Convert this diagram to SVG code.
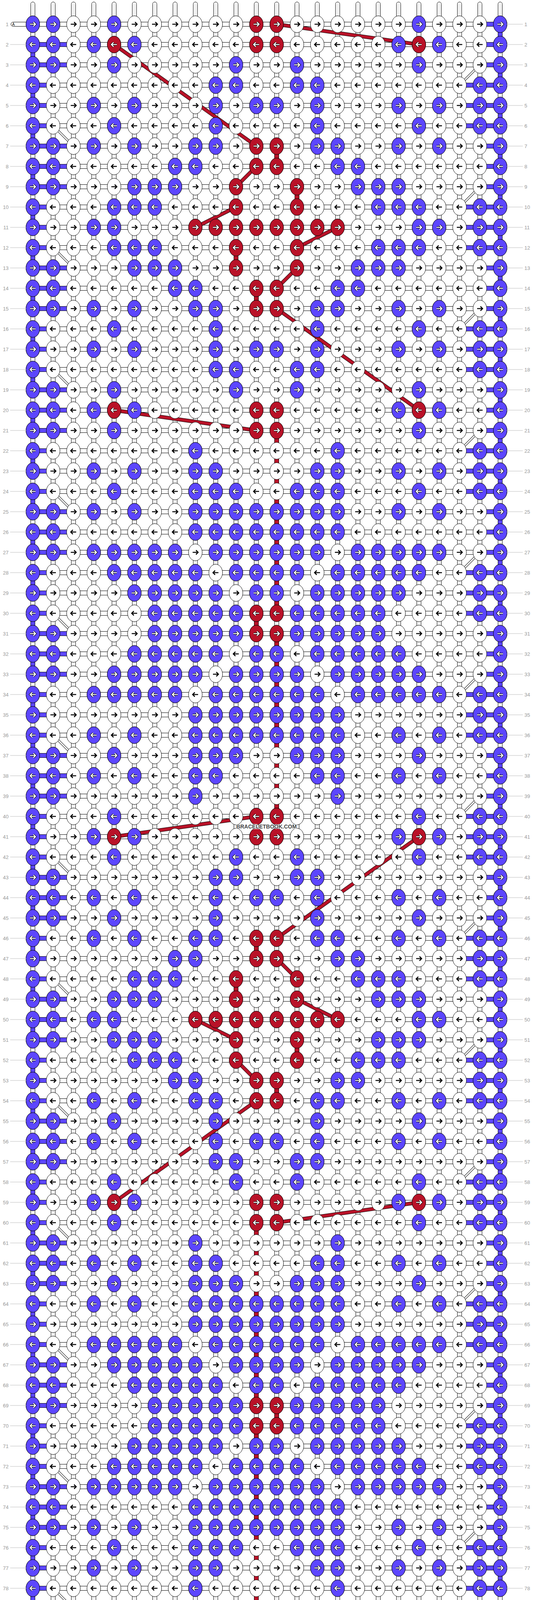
<svg xmlns="http://www.w3.org/2000/svg" width="1364" height="4232" viewBox="0 0 1364 4232">
<style>
.ab{fill:none;stroke:#000;stroke-width:2.6}
.wo{fill:none;stroke:#000;stroke-width:4.8}
.wi{fill:none;stroke:#fff;stroke-width:2.6}
.kb{fill:#5c46fe;stroke:#000}
.kr{fill:#b91228;stroke:#000}
.bl{fill:#5c46fe;stroke:#000}
.rv{fill:#b91228;stroke:#000}
.dw1{fill:none;stroke:#000;stroke-width:5.5}
.dw2{fill:none;stroke:#fff;stroke-width:3.5}
.rdo{fill:none;stroke:#000;stroke-width:9.5}
.rdi{fill:none;stroke:#b91228;stroke-width:7.5}
.num{font-family:"Liberation Sans",Arial,sans-serif;font-size:13px;fill:#999}
</style>
<defs>
<path id="ar" d="M-7 0H6M1.5-5.5L7 0L1.5 5.5"/>
<path id="al" d="M7 0H-6M-1.5-5.5L-7 0L-1.5 5.5"/>
<g id="bR"><ellipse rx="17.5" ry="21.5" class="kb"/><use href="#ar" class="wo"/><use href="#ar" class="wi"/></g>
<g id="bL"><ellipse rx="17.5" ry="21.5" class="kb"/><use href="#al" class="wo"/><use href="#al" class="wi"/></g>
<g id="rR"><ellipse rx="17.5" ry="21.5" class="kr"/><use href="#ar" class="wo"/><use href="#ar" class="wi"/></g>
<g id="rL"><ellipse rx="17.5" ry="21.5" class="kr"/><use href="#al" class="wo"/><use href="#al" class="wi"/></g>
<pattern id="pT" patternUnits="userSpaceOnUse" x="58" y="0" width="52" height="70"><rect x="20.5" y="5" width="11" height="60" rx="5.5" fill="#fff" stroke="#000"/><path d="M24 10V65M28 10V65" stroke="#c8c8c8"/></pattern>
<pattern id="pU" patternUnits="userSpaceOnUse" x="58" y="4160" width="52" height="72"><rect x="20.5" y="0" width="11" height="66" rx="5.5" fill="#fff" stroke="#000"/><path d="M24 0V61M28 0V61" stroke="#c8c8c8"/></pattern>
<pattern id="pA" patternUnits="userSpaceOnUse" x="58" y="36" width="52" height="52"><rect x="20.5" width="11" height="52" fill="#fff"/><path d="M20.5 0V52M31.5 0V52" stroke="#000"/><path d="M24 0V52M28 0V52" stroke="#c8c8c8"/><rect y="20.5" width="52" height="11" fill="#fff"/><path d="M0 20.5H52M0 31.5H52" stroke="#000"/></pattern>
<pattern id="pB" patternUnits="userSpaceOnUse" x="58" y="36" width="52" height="104"><ellipse cx="26" cy="26" rx="17.5" ry="21.5" fill="#fff" stroke="#000"/><use href="#ar" x="26" y="26" class="ab"/><ellipse cx="26" cy="78" rx="17.5" ry="21.5" fill="#fff" stroke="#000"/><use href="#al" x="26" y="78" class="ab"/></pattern>
<pattern id="pL" patternUnits="userSpaceOnUse" x="72" y="36" width="128" height="312">
<g class="bl"><rect x="12" y="20.5" width="104" height="11"/><rect x="12" y="72.5" width="104" height="11"/><rect x="12" y="124.5" width="104" height="11"/><rect x="12" y="176.5" width="52" height="11"/><rect x="12" y="228.5" width="52" height="11"/><rect x="12" y="280.5" width="52" height="11"/><rect x="6.5" y="78" width="11" height="52"/><rect x="6.5" y="182" width="11" height="52"/><rect x="6.5" y="286" width="11" height="52"/><rect x="6.5" y="-26" width="11" height="52"/></g>
<path d="M64 286L116 338M64-26L116 26" class="dw1"/><path d="M64 286L116 338M64-26L116 26" class="dw2"/>
</pattern>
<pattern id="pR" patternUnits="userSpaceOnUse" x="1164" y="36" width="128" height="312">
<g class="bl"><rect x="64" y="20.5" width="52" height="11"/><rect x="64" y="72.5" width="52" height="11"/><rect x="64" y="124.5" width="52" height="11"/><rect x="12" y="176.5" width="104" height="11"/><rect x="12" y="228.5" width="104" height="11"/><rect x="12" y="280.5" width="104" height="11"/><rect x="110.5" y="26" width="11" height="52"/><rect x="110.5" y="130" width="11" height="52"/><rect x="110.5" y="234" width="11" height="52"/></g>
<path d="M64 130L12 182" class="dw1"/><path d="M64 130L12 182" class="dw2"/>
</pattern>
<pattern id="pG" patternUnits="userSpaceOnUse" x="0" y="36" width="1364" height="52"><path d="M0 26H1364" stroke="#bbb"/></pattern>
<path id="rdp" d="M708 62L1072 114M292 114L656 374M656 426L604 478M604 530L500 582M864 582L760 634M760 686L708 738M708 790L1072 1050M292 1050L656 1102M292 2142L656 2090M1072 2142L708 2402M708 2454L760 2506M760 2558L864 2610M500 2610L604 2662M604 2714L656 2766M656 2818L292 3078M708 3130L1072 3078"/>
</defs>
<rect width="1364" height="4232" fill="#fff"/>
<g id="connectors">
<rect x="58" y="0" width="1248" height="62" fill="url(#pT)"/>
<rect x="58" y="4160" width="1248" height="72" fill="url(#pU)"/>
<rect x="67" y="36" width="1230" height="4160" fill="url(#pA)"/>
<rect x="72" y="88" width="128" height="4056" fill="url(#pL)"/>
<rect x="1164" y="36" width="128" height="4160" fill="url(#pR)"/>
<g class="rv">
<rect x="702.5" y="374" width="11" height="52"/><rect x="754.5" y="478" width="11" height="52"/><rect x="598.5" y="634" width="11" height="52"/><rect x="650.5" y="738" width="11" height="52"/>
<rect x="650.5" y="2402" width="11" height="52"/><rect x="598.5" y="2506" width="11" height="52"/><rect x="754.5" y="2662" width="11" height="52"/><rect x="702.5" y="2766" width="11" height="52"/>
<rect x="702.5" y="1102" width="11" height="468"/><rect x="650.5" y="1570" width="11" height="52"/><rect x="702.5" y="1622" width="11" height="468"/>
<rect x="650.5" y="3130" width="11" height="468"/><rect x="702.5" y="3598" width="11" height="52"/><rect x="650.5" y="3650" width="11" height="468"/>
</g>
<use href="#rdp" class="rdo"/><use href="#rdp" class="rdi"/>
<g id="startA1"><rect x="28" y="56.5" width="45" height="11" rx="5.5" fill="#fff" stroke="#000"/><text x="31" y="66" font-family="Liberation Sans, Arial, sans-serif" font-size="10">A</text></g>
<g id="startA80"><rect x="28" y="4164.5" width="45" height="11" rx="5.5" fill="#fff" stroke="#000"/><text x="31" y="4174" font-family="Liberation Sans, Arial, sans-serif" font-size="10">A</text></g>
</g>
<g id="knots">
<rect x="66" y="36" width="1232" height="4160" fill="url(#pB)"/>
<g id="row1" transform="translate(0,62)"><use href="#bR" x="84"/><use href="#bR" x="136"/><use href="#bR" x="292"/><use href="#rR" x="656"/><use href="#rR" x="708"/><use href="#bR" x="1072"/><use href="#bR" x="1280"/></g>
<g id="row2" transform="translate(0,114)"><use href="#bL" x="84"/><use href="#bL" x="136"/><use href="#bL" x="240"/><use href="#rL" x="292"/><use href="#bL" x="344"/><use href="#rL" x="656"/><use href="#rL" x="708"/><use href="#bL" x="1020"/><use href="#rL" x="1072"/><use href="#bL" x="1124"/><use href="#bL" x="1280"/></g>
<g id="row3" transform="translate(0,166)"><use href="#bR" x="84"/><use href="#bR" x="136"/><use href="#bR" x="292"/><use href="#bR" x="604"/><use href="#bR" x="760"/><use href="#bR" x="1072"/><use href="#bR" x="1280"/></g>
<g id="row4" transform="translate(0,218)"><use href="#bL" x="84"/><use href="#bL" x="552"/><use href="#bL" x="604"/><use href="#bL" x="760"/><use href="#bL" x="812"/><use href="#bL" x="1228"/><use href="#bL" x="1280"/></g>
<g id="row5" transform="translate(0,270)"><use href="#bR" x="84"/><use href="#bR" x="240"/><use href="#bR" x="344"/><use href="#bR" x="552"/><use href="#bR" x="656"/><use href="#bR" x="708"/><use href="#bR" x="812"/><use href="#bR" x="1020"/><use href="#bR" x="1124"/><use href="#bR" x="1228"/><use href="#bR" x="1280"/></g>
<g id="row6" transform="translate(0,322)"><use href="#bL" x="84"/><use href="#bL" x="292"/><use href="#bL" x="552"/><use href="#bL" x="812"/><use href="#bL" x="1072"/><use href="#bL" x="1228"/><use href="#bL" x="1280"/></g>
<g id="row7" transform="translate(0,374)"><use href="#bR" x="84"/><use href="#bR" x="136"/><use href="#bR" x="240"/><use href="#bR" x="344"/><use href="#bR" x="500"/><use href="#bR" x="552"/><use href="#rR" x="656"/><use href="#rR" x="708"/><use href="#bR" x="812"/><use href="#bR" x="864"/><use href="#bR" x="1020"/><use href="#bR" x="1124"/><use href="#bR" x="1280"/></g>
<g id="row8" transform="translate(0,426)"><use href="#bL" x="84"/><use href="#bL" x="136"/><use href="#bL" x="448"/><use href="#bL" x="500"/><use href="#rL" x="656"/><use href="#rL" x="708"/><use href="#bL" x="864"/><use href="#bL" x="916"/><use href="#bL" x="1280"/></g>
<g id="row9" transform="translate(0,478)"><use href="#bR" x="84"/><use href="#bR" x="136"/><use href="#bR" x="344"/><use href="#bR" x="396"/><use href="#bR" x="448"/><use href="#rR" x="604"/><use href="#rR" x="760"/><use href="#bR" x="916"/><use href="#bR" x="968"/><use href="#bR" x="1020"/><use href="#bR" x="1280"/></g>
<g id="row10" transform="translate(0,530)"><use href="#bL" x="84"/><use href="#bL" x="292"/><use href="#bL" x="344"/><use href="#bL" x="396"/><use href="#rL" x="604"/><use href="#rL" x="760"/><use href="#bL" x="968"/><use href="#bL" x="1020"/><use href="#bL" x="1072"/><use href="#bL" x="1228"/><use href="#bL" x="1280"/></g>
<g id="row11" transform="translate(0,582)"><use href="#bR" x="84"/><use href="#bR" x="240"/><use href="#bR" x="292"/><use href="#rR" x="500"/><use href="#rR" x="552"/><use href="#rR" x="604"/><use href="#rR" x="656"/><use href="#rR" x="708"/><use href="#rR" x="760"/><use href="#rR" x="812"/><use href="#rR" x="864"/><use href="#bR" x="1072"/><use href="#bR" x="1124"/><use href="#bR" x="1228"/><use href="#bR" x="1280"/></g>
<use id="row12" href="#row10" y="104"/><use id="row13" href="#row9" y="208"/><use id="row14" href="#row8" y="312"/><use id="row15" href="#row7" y="416"/><use id="row16" href="#row6" y="520"/><use id="row17" href="#row5" y="624"/><use id="row18" href="#row4" y="728"/><use id="row19" href="#row3" y="832"/><use id="row20" href="#row2" y="936"/><use id="row21" href="#row1" y="1040"/>
<g id="row22" transform="translate(0,1154)"><use href="#bL" x="84"/><use href="#bL" x="500"/><use href="#bL" x="864"/><use href="#bL" x="1228"/><use href="#bL" x="1280"/></g>
<g id="row23" transform="translate(0,1206)"><use href="#bR" x="84"/><use href="#bR" x="240"/><use href="#bR" x="344"/><use href="#bR" x="500"/><use href="#bR" x="552"/><use href="#bR" x="812"/><use href="#bR" x="864"/><use href="#bR" x="1020"/><use href="#bR" x="1124"/><use href="#bR" x="1228"/><use href="#bR" x="1280"/></g>
<g id="row24" transform="translate(0,1258)"><use href="#bL" x="84"/><use href="#bL" x="292"/><use href="#bL" x="500"/><use href="#bL" x="552"/><use href="#bL" x="604"/><use href="#bL" x="760"/><use href="#bL" x="812"/><use href="#bL" x="864"/><use href="#bL" x="1072"/><use href="#bL" x="1228"/><use href="#bL" x="1280"/></g>
<g id="row25" transform="translate(0,1310)"><use href="#bR" x="84"/><use href="#bR" x="136"/><use href="#bR" x="240"/><use href="#bR" x="344"/><use href="#bR" x="500"/><use href="#bR" x="552"/><use href="#bR" x="604"/><use href="#bR" x="656"/><use href="#bR" x="708"/><use href="#bR" x="760"/><use href="#bR" x="812"/><use href="#bR" x="864"/><use href="#bR" x="1020"/><use href="#bR" x="1124"/><use href="#bR" x="1280"/></g>
<g id="row26" transform="translate(0,1362)"><use href="#bL" x="84"/><use href="#bL" x="136"/><use href="#bL" x="500"/><use href="#bL" x="552"/><use href="#bL" x="604"/><use href="#bL" x="656"/><use href="#bL" x="708"/><use href="#bL" x="760"/><use href="#bL" x="812"/><use href="#bL" x="864"/><use href="#bL" x="1280"/></g>
<g id="row27" transform="translate(0,1414)"><use href="#bR" x="84"/><use href="#bR" x="136"/><use href="#bR" x="240"/><use href="#bR" x="292"/><use href="#bR" x="344"/><use href="#bR" x="396"/><use href="#bR" x="448"/><use href="#bR" x="552"/><use href="#bR" x="604"/><use href="#bR" x="656"/><use href="#bR" x="708"/><use href="#bR" x="760"/><use href="#bR" x="812"/><use href="#bR" x="916"/><use href="#bR" x="968"/><use href="#bR" x="1020"/><use href="#bR" x="1072"/><use href="#bR" x="1124"/><use href="#bR" x="1280"/></g>
<g id="row28" transform="translate(0,1466)"><use href="#bL" x="84"/><use href="#bL" x="292"/><use href="#bL" x="344"/><use href="#bL" x="396"/><use href="#bL" x="448"/><use href="#bL" x="500"/><use href="#bL" x="604"/><use href="#bL" x="656"/><use href="#bL" x="708"/><use href="#bL" x="760"/><use href="#bL" x="864"/><use href="#bL" x="916"/><use href="#bL" x="968"/><use href="#bL" x="1020"/><use href="#bL" x="1072"/><use href="#bL" x="1228"/><use href="#bL" x="1280"/></g>
<g id="row29" transform="translate(0,1518)"><use href="#bR" x="84"/><use href="#bR" x="344"/><use href="#bR" x="396"/><use href="#bR" x="448"/><use href="#bR" x="500"/><use href="#bR" x="552"/><use href="#bR" x="656"/><use href="#bR" x="708"/><use href="#bR" x="812"/><use href="#bR" x="864"/><use href="#bR" x="916"/><use href="#bR" x="968"/><use href="#bR" x="1020"/><use href="#bR" x="1228"/><use href="#bR" x="1280"/></g>
<g id="row30" transform="translate(0,1570)"><use href="#bL" x="84"/><use href="#bL" x="396"/><use href="#bL" x="448"/><use href="#bL" x="500"/><use href="#bL" x="552"/><use href="#bL" x="604"/><use href="#rL" x="656"/><use href="#rL" x="708"/><use href="#bL" x="760"/><use href="#bL" x="812"/><use href="#bL" x="864"/><use href="#bL" x="916"/><use href="#bL" x="968"/><use href="#bL" x="1228"/><use href="#bL" x="1280"/></g>
<g id="row31" transform="translate(0,1622)"><use href="#bR" x="84"/><use href="#bR" x="136"/><use href="#bR" x="396"/><use href="#bR" x="448"/><use href="#bR" x="500"/><use href="#bR" x="552"/><use href="#bR" x="604"/><use href="#rR" x="656"/><use href="#rR" x="708"/><use href="#bR" x="760"/><use href="#bR" x="812"/><use href="#bR" x="864"/><use href="#bR" x="916"/><use href="#bR" x="968"/><use href="#bR" x="1280"/></g>
<g id="row32" transform="translate(0,1674)"><use href="#bL" x="84"/><use href="#bL" x="136"/><use href="#bL" x="344"/><use href="#bL" x="396"/><use href="#bL" x="448"/><use href="#bL" x="500"/><use href="#bL" x="552"/><use href="#bL" x="656"/><use href="#bL" x="708"/><use href="#bL" x="812"/><use href="#bL" x="864"/><use href="#bL" x="916"/><use href="#bL" x="968"/><use href="#bL" x="1020"/><use href="#bL" x="1280"/></g>
<g id="row33" transform="translate(0,1726)"><use href="#bR" x="84"/><use href="#bR" x="136"/><use href="#bR" x="292"/><use href="#bR" x="344"/><use href="#bR" x="396"/><use href="#bR" x="448"/><use href="#bR" x="500"/><use href="#bR" x="604"/><use href="#bR" x="656"/><use href="#bR" x="708"/><use href="#bR" x="760"/><use href="#bR" x="864"/><use href="#bR" x="916"/><use href="#bR" x="968"/><use href="#bR" x="1020"/><use href="#bR" x="1072"/><use href="#bR" x="1280"/></g>
<g id="row34" transform="translate(0,1778)"><use href="#bL" x="84"/><use href="#bL" x="240"/><use href="#bL" x="292"/><use href="#bL" x="344"/><use href="#bL" x="396"/><use href="#bL" x="448"/><use href="#bL" x="552"/><use href="#bL" x="604"/><use href="#bL" x="656"/><use href="#bL" x="708"/><use href="#bL" x="760"/><use href="#bL" x="812"/><use href="#bL" x="916"/><use href="#bL" x="968"/><use href="#bL" x="1020"/><use href="#bL" x="1072"/><use href="#bL" x="1124"/><use href="#bL" x="1228"/><use href="#bL" x="1280"/></g>
<g id="row35" transform="translate(0,1830)"><use href="#bR" x="84"/><use href="#bR" x="500"/><use href="#bR" x="552"/><use href="#bR" x="604"/><use href="#bR" x="656"/><use href="#bR" x="708"/><use href="#bR" x="760"/><use href="#bR" x="812"/><use href="#bR" x="864"/><use href="#bR" x="1228"/><use href="#bR" x="1280"/></g>
<g id="row36" transform="translate(0,1882)"><use href="#bL" x="84"/><use href="#bL" x="240"/><use href="#bL" x="344"/><use href="#bL" x="500"/><use href="#bL" x="552"/><use href="#bL" x="604"/><use href="#bL" x="656"/><use href="#bL" x="708"/><use href="#bL" x="760"/><use href="#bL" x="812"/><use href="#bL" x="864"/><use href="#bL" x="1020"/><use href="#bL" x="1124"/><use href="#bL" x="1228"/><use href="#bL" x="1280"/></g>
<g id="row37" transform="translate(0,1934)"><use href="#bR" x="84"/><use href="#bR" x="136"/><use href="#bR" x="292"/><use href="#bR" x="500"/><use href="#bR" x="552"/><use href="#bR" x="604"/><use href="#bR" x="760"/><use href="#bR" x="812"/><use href="#bR" x="864"/><use href="#bR" x="1072"/><use href="#bR" x="1280"/></g>
<g id="row38" transform="translate(0,1986)"><use href="#bL" x="84"/><use href="#bL" x="136"/><use href="#bL" x="240"/><use href="#bL" x="344"/><use href="#bL" x="500"/><use href="#bL" x="552"/><use href="#bL" x="812"/><use href="#bL" x="864"/><use href="#bL" x="1020"/><use href="#bL" x="1124"/><use href="#bL" x="1280"/></g>
<g id="row39" transform="translate(0,2038)"><use href="#bR" x="84"/><use href="#bR" x="136"/><use href="#bR" x="500"/><use href="#bR" x="864"/><use href="#bR" x="1280"/></g>
<g id="row40" transform="translate(0,2090)"><use href="#bL" x="84"/><use href="#bL" x="292"/><use href="#rL" x="656"/><use href="#rL" x="708"/><use href="#bL" x="1072"/><use href="#bL" x="1228"/><use href="#bL" x="1280"/></g>
<g id="row41" transform="translate(0,2142)"><use href="#bR" x="84"/><use href="#bR" x="240"/><use href="#rR" x="292"/><use href="#bR" x="344"/><use href="#rR" x="656"/><use href="#rR" x="708"/><use href="#bR" x="1020"/><use href="#rR" x="1072"/><use href="#bR" x="1124"/><use href="#bR" x="1228"/><use href="#bR" x="1280"/></g>
<g id="row42" transform="translate(0,2194)"><use href="#bL" x="84"/><use href="#bL" x="292"/><use href="#bL" x="604"/><use href="#bL" x="760"/><use href="#bL" x="1072"/><use href="#bL" x="1228"/><use href="#bL" x="1280"/></g>
<g id="row43" transform="translate(0,2246)"><use href="#bR" x="84"/><use href="#bR" x="136"/><use href="#bR" x="552"/><use href="#bR" x="604"/><use href="#bR" x="760"/><use href="#bR" x="812"/><use href="#bR" x="1280"/></g>
<g id="row44" transform="translate(0,2298)"><use href="#bL" x="84"/><use href="#bL" x="136"/><use href="#bL" x="240"/><use href="#bL" x="344"/><use href="#bL" x="552"/><use href="#bL" x="656"/><use href="#bL" x="708"/><use href="#bL" x="812"/><use href="#bL" x="1020"/><use href="#bL" x="1124"/><use href="#bL" x="1280"/></g>
<g id="row45" transform="translate(0,2350)"><use href="#bR" x="84"/><use href="#bR" x="136"/><use href="#bR" x="292"/><use href="#bR" x="552"/><use href="#bR" x="812"/><use href="#bR" x="1072"/><use href="#bR" x="1280"/></g>
<g id="row46" transform="translate(0,2402)"><use href="#bL" x="84"/><use href="#bL" x="240"/><use href="#bL" x="344"/><use href="#bL" x="500"/><use href="#bL" x="552"/><use href="#rL" x="656"/><use href="#rL" x="708"/><use href="#bL" x="812"/><use href="#bL" x="864"/><use href="#bL" x="1020"/><use href="#bL" x="1124"/><use href="#bL" x="1228"/><use href="#bL" x="1280"/></g>
<g id="row47" transform="translate(0,2454)"><use href="#bR" x="84"/><use href="#bR" x="448"/><use href="#bR" x="500"/><use href="#rR" x="656"/><use href="#rR" x="708"/><use href="#bR" x="864"/><use href="#bR" x="916"/><use href="#bR" x="1228"/><use href="#bR" x="1280"/></g>
<g id="row48" transform="translate(0,2506)"><use href="#bL" x="84"/><use href="#bL" x="344"/><use href="#bL" x="396"/><use href="#bL" x="448"/><use href="#rL" x="604"/><use href="#rL" x="760"/><use href="#bL" x="916"/><use href="#bL" x="968"/><use href="#bL" x="1020"/><use href="#bL" x="1228"/><use href="#bL" x="1280"/></g>
<g id="row49" transform="translate(0,2558)"><use href="#bR" x="84"/><use href="#bR" x="136"/><use href="#bR" x="292"/><use href="#bR" x="344"/><use href="#bR" x="396"/><use href="#rR" x="604"/><use href="#rR" x="760"/><use href="#bR" x="968"/><use href="#bR" x="1020"/><use href="#bR" x="1072"/><use href="#bR" x="1280"/></g>
<g id="row50" transform="translate(0,2610)"><use href="#bL" x="84"/><use href="#bL" x="136"/><use href="#bL" x="240"/><use href="#bL" x="292"/><use href="#rL" x="500"/><use href="#rL" x="552"/><use href="#rL" x="604"/><use href="#rL" x="656"/><use href="#rL" x="708"/><use href="#rL" x="760"/><use href="#rL" x="812"/><use href="#rL" x="864"/><use href="#bL" x="1072"/><use href="#bL" x="1124"/><use href="#bL" x="1280"/></g>
<use id="row51" href="#row49" y="104"/><use id="row52" href="#row48" y="208"/><use id="row53" href="#row47" y="312"/><use id="row54" href="#row46" y="416"/><use id="row55" href="#row45" y="520"/><use id="row56" href="#row44" y="624"/><use id="row57" href="#row43" y="728"/><use id="row58" href="#row42" y="832"/><use id="row59" href="#row41" y="936"/><use id="row60" href="#row40" y="1040"/>
<use id="row61" href="#row39" y="1144"/><use id="row62" href="#row38" y="1248"/><use id="row63" href="#row37" y="1352"/><use id="row64" href="#row36" y="1456"/><use id="row65" href="#row35" y="1560"/><use id="row66" href="#row34" y="1664"/><use id="row67" href="#row33" y="1768"/><use id="row68" href="#row32" y="1872"/><use id="row69" href="#row31" y="1976"/><use id="row70" href="#row30" y="2080"/>
<use id="row71" href="#row29" y="2184"/><use id="row72" href="#row28" y="2288"/><use id="row73" href="#row27" y="2392"/><use id="row74" href="#row26" y="2496"/><use id="row75" href="#row25" y="2600"/><use id="row76" href="#row24" y="2704"/><use id="row77" href="#row23" y="2808"/><use id="row78" href="#row22" y="2912"/><use id="row79" href="#row1" y="4056"/><use id="row80" href="#row2" y="4056"/>
</g>
<g id="labels">
<rect x="26" y="88" width="41" height="4056" fill="url(#pG)"/>
<rect x="1297" y="36" width="41" height="4160" fill="url(#pG)"/>
<g class="num" transform="translate(22,0)" text-anchor="end">
<text y="66.5">1</text><text y="118.5">2</text><text y="170.5">3</text><text y="222.5">4</text><text y="274.5">5</text><text y="326.5">6</text><text y="378.5">7</text><text y="430.5">8</text><text y="482.5">9</text><text y="534.5">10</text>
<text y="586.5">11</text><text y="638.5">12</text><text y="690.5">13</text><text y="742.5">14</text><text y="794.5">15</text><text y="846.5">16</text><text y="898.5">17</text><text y="950.5">18</text><text y="1002.5">19</text><text y="1054.5">20</text>
<text y="1106.5">21</text><text y="1158.5">22</text><text y="1210.5">23</text><text y="1262.5">24</text><text y="1314.5">25</text><text y="1366.5">26</text><text y="1418.5">27</text><text y="1470.5">28</text><text y="1522.5">29</text><text y="1574.5">30</text>
<text y="1626.5">31</text><text y="1678.5">32</text><text y="1730.5">33</text><text y="1782.5">34</text><text y="1834.5">35</text><text y="1886.5">36</text><text y="1938.5">37</text><text y="1990.5">38</text><text y="2042.5">39</text><text y="2094.5">40</text>
<text y="2146.5">41</text><text y="2198.5">42</text><text y="2250.5">43</text><text y="2302.5">44</text><text y="2354.5">45</text><text y="2406.5">46</text><text y="2458.5">47</text><text y="2510.5">48</text><text y="2562.5">49</text><text y="2614.5">50</text>
<text y="2666.5">51</text><text y="2718.5">52</text><text y="2770.5">53</text><text y="2822.5">54</text><text y="2874.5">55</text><text y="2926.5">56</text><text y="2978.5">57</text><text y="3030.5">58</text><text y="3082.5">59</text><text y="3134.5">60</text>
<text y="3186.5">61</text><text y="3238.5">62</text><text y="3290.5">63</text><text y="3342.5">64</text><text y="3394.5">65</text><text y="3446.5">66</text><text y="3498.5">67</text><text y="3550.5">68</text><text y="3602.5">69</text><text y="3654.5">70</text>
<text y="3706.5">71</text><text y="3758.5">72</text><text y="3810.5">73</text><text y="3862.5">74</text><text y="3914.5">75</text><text y="3966.5">76</text><text y="4018.5">77</text><text y="4070.5">78</text><text y="4122.5">79</text><text y="4174.5">80</text>
</g>
<g class="num" transform="translate(1342,0)" text-anchor="start">
<text y="66.5">1</text><text y="118.5">2</text><text y="170.5">3</text><text y="222.5">4</text><text y="274.5">5</text><text y="326.5">6</text><text y="378.5">7</text><text y="430.5">8</text><text y="482.5">9</text><text y="534.5">10</text>
<text y="586.5">11</text><text y="638.5">12</text><text y="690.5">13</text><text y="742.5">14</text><text y="794.5">15</text><text y="846.5">16</text><text y="898.5">17</text><text y="950.5">18</text><text y="1002.5">19</text><text y="1054.5">20</text>
<text y="1106.5">21</text><text y="1158.5">22</text><text y="1210.5">23</text><text y="1262.5">24</text><text y="1314.5">25</text><text y="1366.5">26</text><text y="1418.5">27</text><text y="1470.5">28</text><text y="1522.5">29</text><text y="1574.5">30</text>
<text y="1626.5">31</text><text y="1678.5">32</text><text y="1730.5">33</text><text y="1782.5">34</text><text y="1834.5">35</text><text y="1886.5">36</text><text y="1938.5">37</text><text y="1990.5">38</text><text y="2042.5">39</text><text y="2094.5">40</text>
<text y="2146.5">41</text><text y="2198.5">42</text><text y="2250.5">43</text><text y="2302.5">44</text><text y="2354.5">45</text><text y="2406.5">46</text><text y="2458.5">47</text><text y="2510.5">48</text><text y="2562.5">49</text><text y="2614.5">50</text>
<text y="2666.5">51</text><text y="2718.5">52</text><text y="2770.5">53</text><text y="2822.5">54</text><text y="2874.5">55</text><text y="2926.5">56</text><text y="2978.5">57</text><text y="3030.5">58</text><text y="3082.5">59</text><text y="3134.5">60</text>
<text y="3186.5">61</text><text y="3238.5">62</text><text y="3290.5">63</text><text y="3342.5">64</text><text y="3394.5">65</text><text y="3446.5">66</text><text y="3498.5">67</text><text y="3550.5">68</text><text y="3602.5">69</text><text y="3654.5">70</text>
<text y="3706.5">71</text><text y="3758.5">72</text><text y="3810.5">73</text><text y="3862.5">74</text><text y="3914.5">75</text><text y="3966.5">76</text><text y="4018.5">77</text><text y="4070.5">78</text><text y="4122.5">79</text><text y="4174.5">80</text>
</g>
<text x="682" y="2121" text-anchor="middle" font-family="Liberation Sans, Arial, sans-serif" font-weight="bold" font-size="14" fill="#444" stroke="#fff" stroke-width="2.5" paint-order="stroke">BRACELETBOOK.COM</text>
</g>
</svg>
